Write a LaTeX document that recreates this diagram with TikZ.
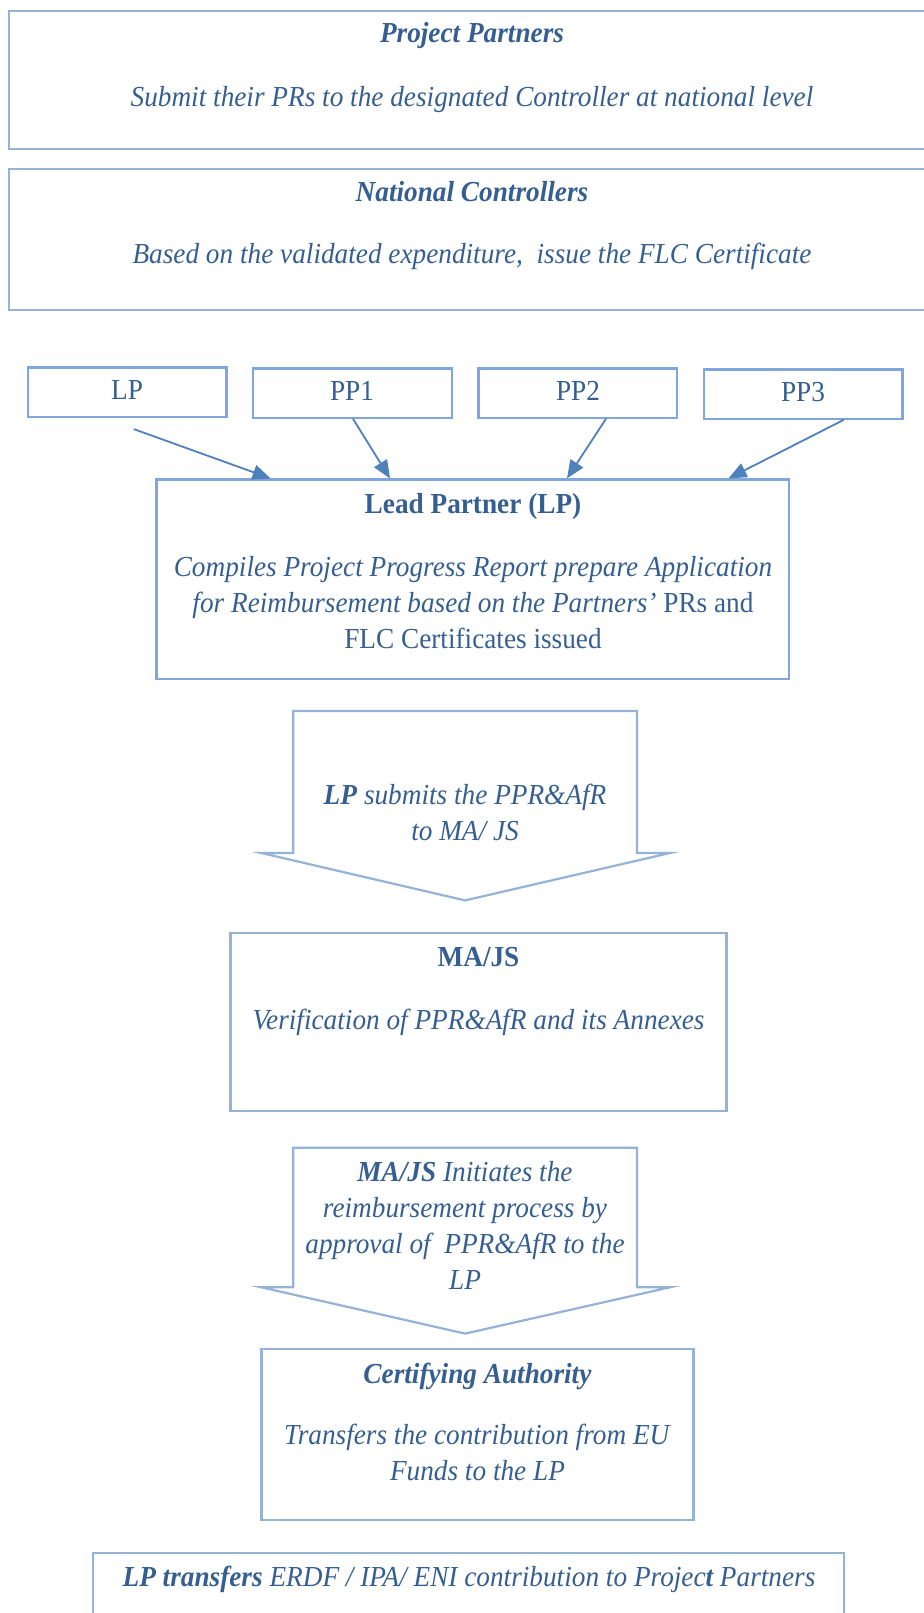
\documentclass[tikz,border=0pt]{standalone}
\usepackage{fontspec}
\setmainfont[FakeStretch=0.94]{Liberation Serif}
\usetikzlibrary{arrows.meta,calc,fit}
\definecolor{txt}{HTML}{365F91}
\definecolor{bord}{HTML}{95B3D7}
\definecolor{bordd}{HTML}{80A6DC}
\definecolor{arr}{HTML}{4F81BD}
\begin{document}
\begin{tikzpicture}[x=0.5pt,y=-0.5pt,
  box/.style={draw=bord, line width=1.1pt, inner sep=0pt},
  lbl/.style={text=txt, font=\fontsize{14.5}{18}\selectfont, align=center, inner sep=0pt, anchor=base},
  conn/.style={draw=arr, line width=0.9pt, -{Triangle[length=9pt,width=7.5pt]}},
  callout/.style={draw=bord, line width=1.1pt, fill=white}]
\useasboundingbox (0,0) rectangle (923,1613);
\fill[white] (0,0) rectangle (923,1613);

% top boxes
\node[box, fit={(9.3,11.3) (940,149.2)}] (pp) {};
\node[lbl] (pptitle) at (472,42) {\textbf{\textit{Project Partners}}};
\node[lbl] (pptext) at (472,106) {\textit{Submit their PRs to the designated Controller at national level}};

\node[box, fit={(9.3,168.8) (940,309.7)}] (nc) {};
\node[lbl] (nctitle) at (472,201) {\textbf{\textit{National Controllers}}};
\node[lbl] (nctext) at (472,263) {\textit{Based on the validated expenditure,\ \ issue the FLC Certificate}};

% small partner boxes
\node[box, draw=bordd, fit={(27.8,367.4) (226.4,416.7)}] (lp) {};
\node[box, draw=bordd, fit={(253.1,368.4) (451.7,417.8)}] (pp1) {};
\node[box, draw=bordd, fit={(478.5,368.4) (677.1,417.8)}] (pp2) {};
\node[box, draw=bordd, fit={(703.8,369.4) (902.4,418.8)}] (pp3) {};
\node[lbl] at (127,399) {LP};
\node[lbl] at (352,400) {PP1};
\node[lbl] at (578,400) {PP2};
\node[lbl] at (803,401) {PP3};

% lead partner box
\node[box, draw=bordd, fit={(156.4,479.5) (789.2,679.1)}] (lead) {};
\node[lbl] (leadtitle) at (473,513) {\textbf{Lead Partner (LP)}};
\node[lbl] (leadtext) at (473,648) {\textit{Compiles Project Progress Report prepare Application}\\
\textit{for Reimbursement based on the Partners'} PRs and\\
FLC Certificates issued};

% connectors
\coordinate (lpS) at (133.8,429.1);
\coordinate (pp1S) at (353,418.8);
\coordinate (pp2S) at (606,418.8);
\coordinate (pp3S) at (843.8,419.8);
\draw[conn] (lpS) -- (lead.north -| 270.6,0);
\draw[conn] (pp1S) -- (lead.north -| 390,0);
\draw[conn] (pp2S) -- (lead.north -| 567,0);
\draw[conn] (pp3S) -- (lead.north -| 728.5,0);

% callout arrow 1
\draw[callout] (293.3,711) -- (637,711) -- (637,853) -- (669.9,853) -- (465.1,900.4) -- (261.4,853) -- (293.3,853) -- cycle;
\node[lbl] (a1text) at (465,840) {\textbf{\textit{LP}} \textit{submits the PPR\&AfR}\\ \textit{to MA/ JS}};

% MA/JS box
\node[box, fit={(230.5,933.3) (726.5,1111.3)}] (majs) {};
\node[lbl] (majstitle) at (478.5,966) {\textbf{MA/JS}};
\node[lbl] (majstext) at (478.5,1029) {\textit{Verification of PPR\&AfR and its Annexes}};

% callout arrow 2
\draw[callout] (293.3,1147.8) -- (637,1147.8) -- (637,1287.3) -- (669.9,1287.3) -- (465.1,1333.6) -- (261.4,1287.3) -- (293.3,1287.3) -- cycle;
\node[lbl] (a2text) at (465,1289) {\textbf{\textit{MA/JS}} \textit{Initiates the}\\ \textit{reimbursement process by}\\ \textit{approval of\ \ PPR\&AfR to the}\\ \textit{LP}};

% certifying authority
\node[box, fit={(261.4,1349) (693.5,1519.9)}] (ca) {};
\node[lbl] (catitle) at (477.5,1383) {\textbf{\textit{Certifying Authority}}};
\node[lbl] (catext) at (477.5,1480) {\textit{Transfers the contribution from EU}\\ \textit{Funds to the LP}};

% bottom box
\node[box, fit={(92.6,1552.8) (843.8,1640)}] (final) {};
\node[lbl] (finaltext) at (469,1586) {\textbf{\textit{LP transfers}} \textit{ERDF / IPA/ ENI contribution to Projec\textbf{t} Partners}};
\end{tikzpicture}
\end{document}
